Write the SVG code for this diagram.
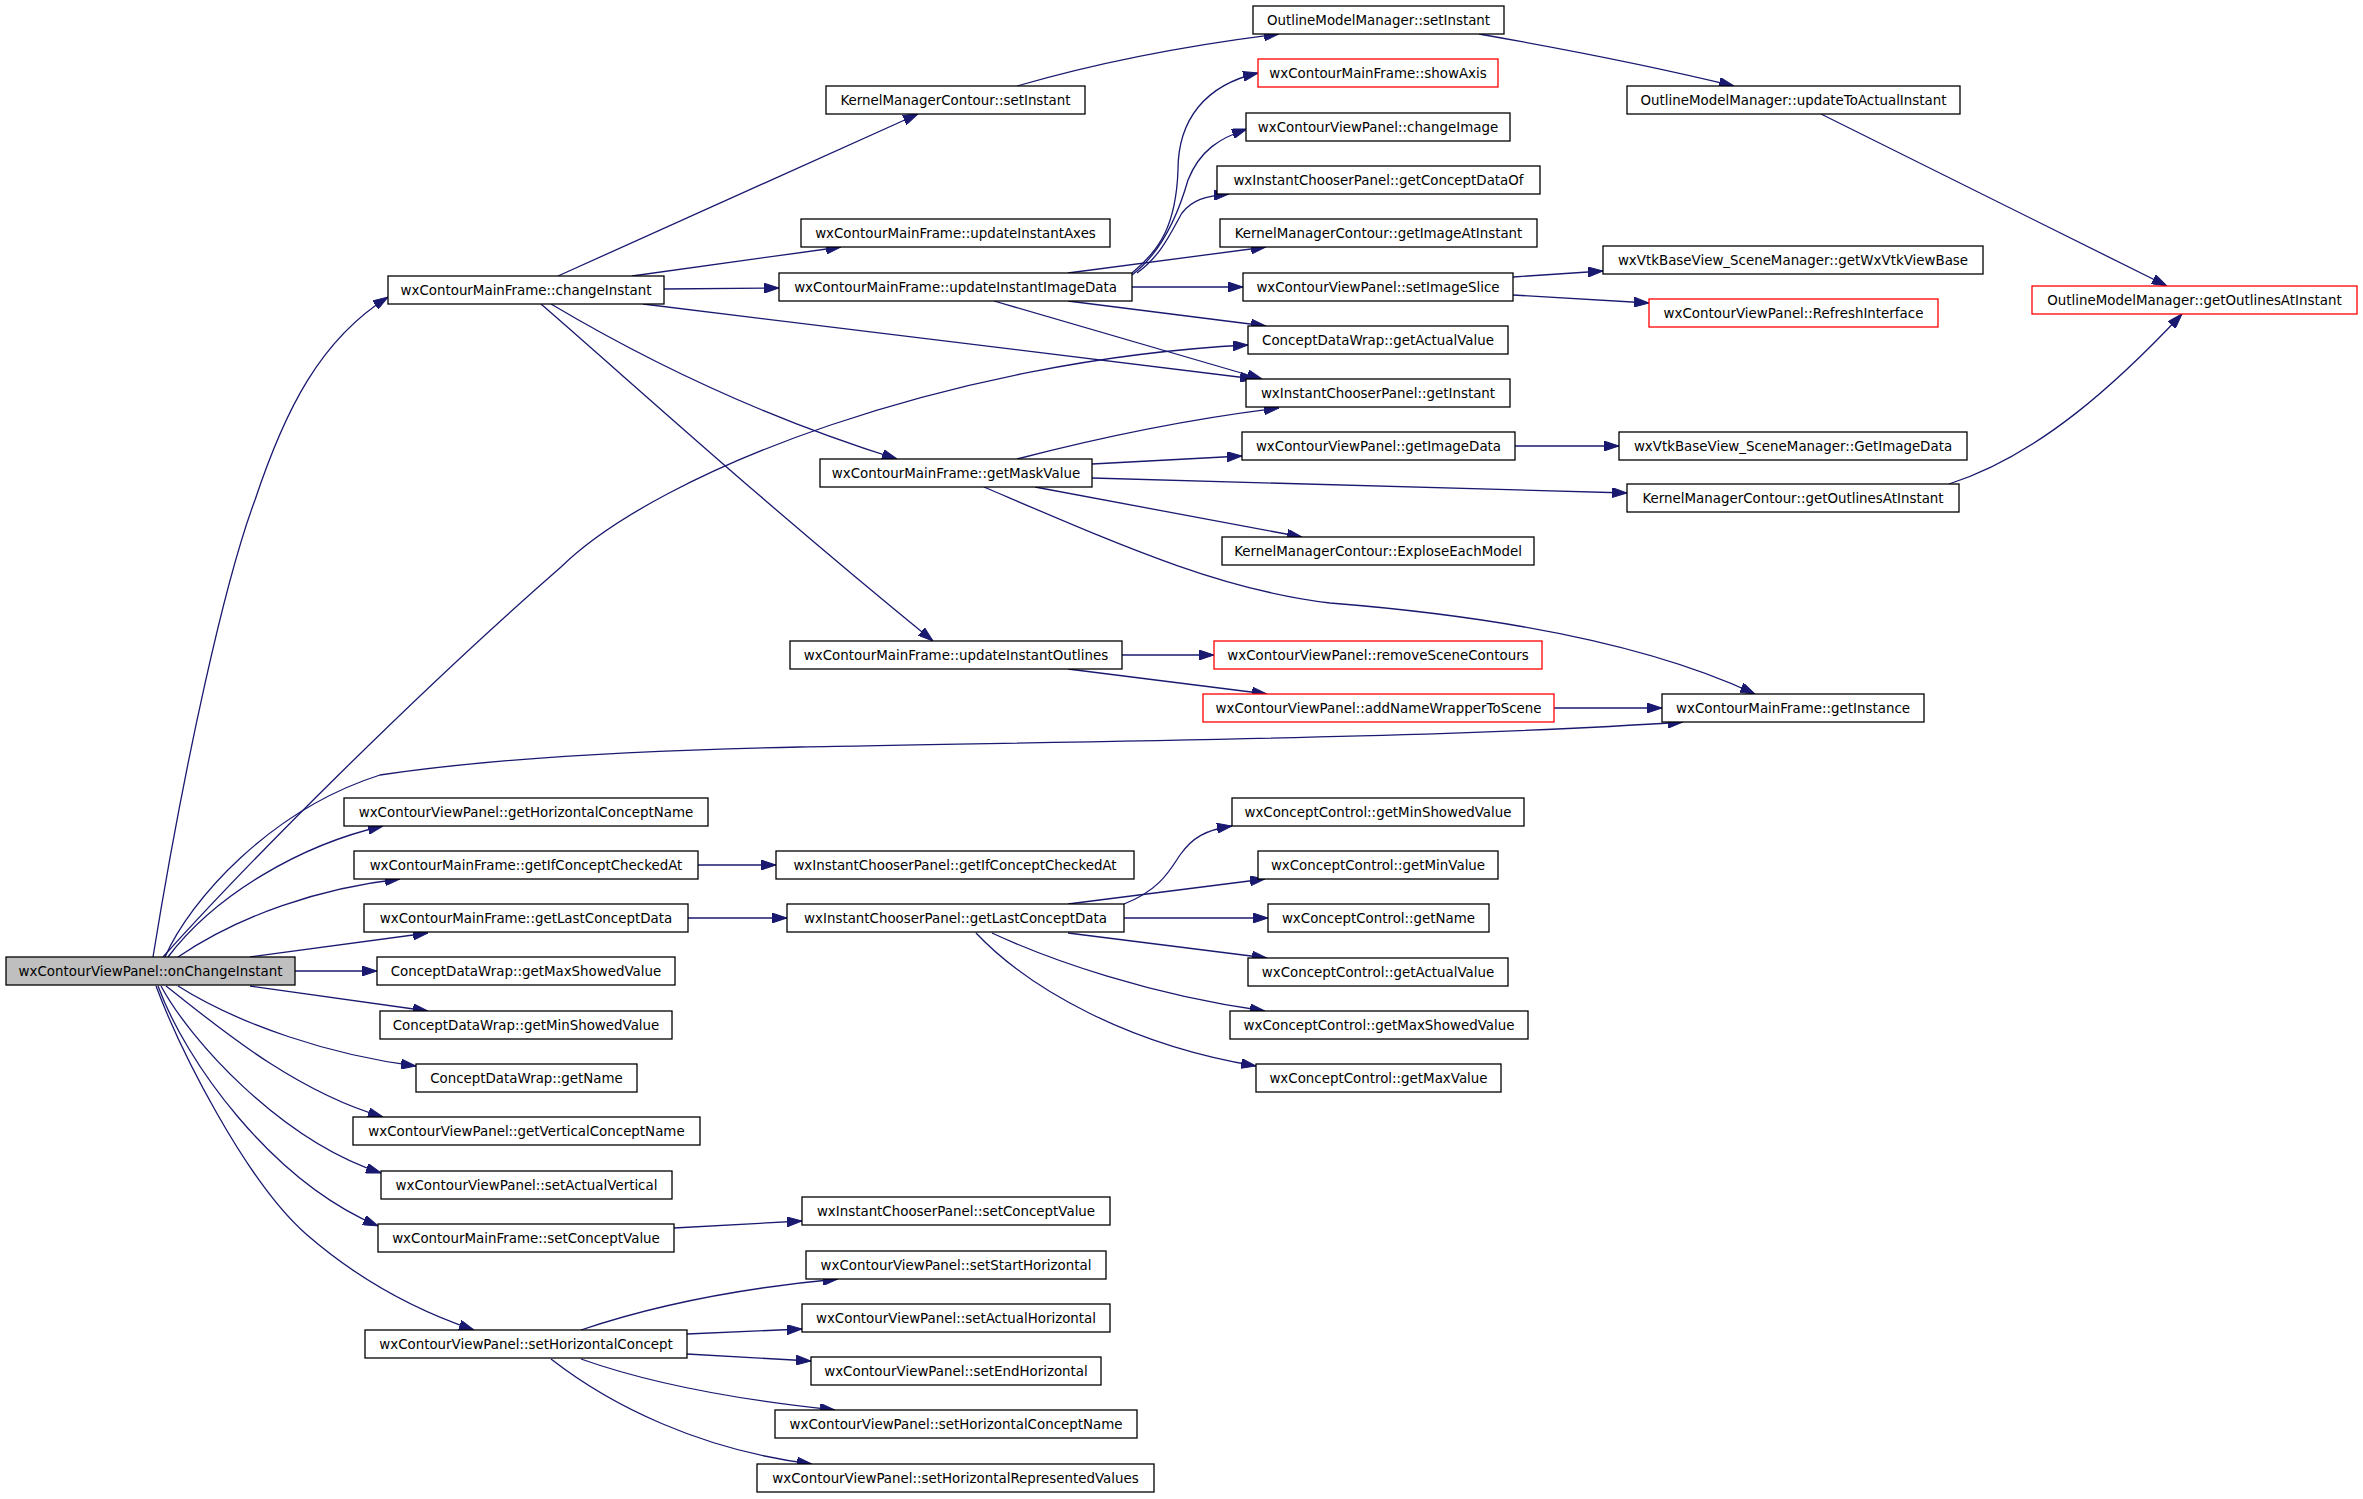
<svg xmlns="http://www.w3.org/2000/svg" width="2363" height="1499" viewBox="0 0 2363 1499">
<style>
.n rect{fill:#fff;stroke:#000;stroke-width:1.3}
.n.r rect{stroke:#ff0000}
.n.g rect{fill:#bfbfbf}
.n text{font-family:"DejaVu Sans",sans-serif;font-size:13.4px;fill:#000;text-anchor:middle}
#edges path{fill:none;stroke:#191970;stroke-width:1.3;marker-end:url(#ah)}
</style>
<defs>
<marker id="ah" viewBox="0 0 15 10" refX="15" refY="5" markerWidth="15" markerHeight="10" markerUnits="userSpaceOnUse" orient="auto">
<path d="M0,0 L15,5 L0,10 z" fill="#191970" stroke="#191970" stroke-width="1"/>
</marker>
</defs>
<rect width="2363" height="1499" fill="#fff"/>
<g id="edges">
<path d="M153,957 C185,760 225,580 255,500 C285,410 320,340 388,297"/>
<path d="M163,957 C250,860 420,690 561,567 C660,470 950,360 1248,345"/>
<path d="M165,957 C190,900 270,810 380,775 C500,757 650,750 800,747 C1100,741 1450,738 1683,722"/>
<path d="M168,957 C215,895 300,845 383,826"/>
<path d="M178,957 C240,915 320,888 400,879"/>
<path d="M250,957 L428,933"/>
<path d="M295,971 L377,971"/>
<path d="M250,986 L428,1011"/>
<path d="M178,986 C240,1025 330,1055 416,1066"/>
<path d="M166,986 C210,1020 290,1090 383,1117"/>
<path d="M161,986 C190,1040 280,1140 381,1173"/>
<path d="M158,986 C185,1060 270,1180 378,1226"/>
<path d="M156,986 C180,1050 245,1180 306,1234 C345,1268 400,1305 474,1330"/>
<path d="M558,276 L918,114"/>
<path d="M632,276 L841,247"/>
<path d="M664,289 L779,288"/>
<path d="M643,304 L1255,379"/>
<path d="M551,304 C620,345 740,410 897,459"/>
<path d="M541,304 C640,390 760,500 933,641"/>
<path d="M1132,273 C1160,250 1176,225 1178,170 C1178,120 1205,85 1258,73"/>
<path d="M1132,275 C1162,252 1178,215 1188,180 C1200,150 1220,138 1247,129"/>
<path d="M1137,273 C1162,255 1172,230 1182,213 C1192,200 1205,196 1229,194"/>
<path d="M1068,273 L1266,247"/>
<path d="M1132,287 L1243,287"/>
<path d="M1068,301 L1266,326"/>
<path d="M994,301 L1262,379"/>
<path d="M1513,277 L1603,271"/>
<path d="M1513,295 L1649,303"/>
<path d="M1017,86 C1100,62 1190,45 1279,34"/>
<path d="M1479,34 C1570,50 1660,68 1734,86"/>
<path d="M1821,114 L2167,286"/>
<path d="M1949,484 C2040,455 2120,380 2182,314"/>
<path d="M1017,459 C1090,440 1180,420 1279,408"/>
<path d="M1092,464 L1242,456"/>
<path d="M1092,478 L1627,493"/>
<path d="M1035,487 L1302,537"/>
<path d="M984,487 C1120,545 1220,590 1330,603 C1480,615 1640,640 1755,694"/>
<path d="M1122,655 L1214,655"/>
<path d="M1068,669 L1267,694"/>
<path d="M1554,708 L1662,708"/>
<path d="M698,865 L776,865"/>
<path d="M688,918 L787,918"/>
<path d="M1124,904 C1160,890 1170,870 1180,855 C1192,838 1205,830 1232,826"/>
<path d="M1068,904 L1265,879"/>
<path d="M1124,918 L1268,918"/>
<path d="M1068,933 L1267,958"/>
<path d="M992,933 C1050,960 1150,995 1265,1011"/>
<path d="M976,933 C1030,990 1130,1045 1256,1066"/>
<path d="M674,1228 L802,1221"/>
<path d="M581,1330 C640,1310 720,1290 838,1279"/>
<path d="M687,1334 L802,1329"/>
<path d="M687,1354 L811,1361"/>
<path d="M581,1359 C640,1380 720,1398 835,1410"/>
<path d="M551,1359 C610,1405 700,1450 812,1464"/>
<path d="M1515,446 L1619,446"/>
</g>
<g id="n0" class="n g"><rect x="6" y="957" width="289" height="28"/><text x="150.5" y="976">wxContourViewPanel::onChangeInstant</text></g>
<g id="n1" class="n"><rect x="388" y="276" width="276" height="28"/><text x="526" y="295">wxContourMainFrame::changeInstant</text></g>
<g id="n2" class="n"><rect x="826" y="86" width="259" height="28"/><text x="955.5" y="105">KernelManagerContour::setInstant</text></g>
<g id="n3" class="n"><rect x="1253" y="6" width="251" height="28"/><text x="1378.5" y="25">OutlineModelManager::setInstant</text></g>
<g id="n4" class="n"><rect x="1627" y="86" width="333" height="28"/><text x="1793.5" y="105">OutlineModelManager::updateToActualInstant</text></g>
<g id="n5" class="n r"><rect x="2032" y="286" width="325" height="28"/><text x="2194.5" y="305">OutlineModelManager::getOutlinesAtInstant</text></g>
<g id="n6" class="n r"><rect x="1258" y="59" width="240" height="28"/><text x="1378" y="78">wxContourMainFrame::showAxis</text></g>
<g id="n7" class="n"><rect x="1246" y="113" width="264" height="28"/><text x="1378" y="132">wxContourViewPanel::changeImage</text></g>
<g id="n8" class="n"><rect x="1217" y="166" width="323" height="28"/><text x="1378.5" y="185">wxInstantChooserPanel::getConceptDataOf</text></g>
<g id="n9" class="n"><rect x="801" y="219" width="309" height="28"/><text x="955.5" y="238">wxContourMainFrame::updateInstantAxes</text></g>
<g id="n10" class="n"><rect x="1220" y="219" width="317" height="28"/><text x="1378.5" y="238">KernelManagerContour::getImageAtInstant</text></g>
<g id="n11" class="n"><rect x="779" y="273" width="353" height="28"/><text x="955.5" y="292">wxContourMainFrame::updateInstantImageData</text></g>
<g id="n12" class="n"><rect x="1243" y="273" width="270" height="28"/><text x="1378" y="292">wxContourViewPanel::setImageSlice</text></g>
<g id="n13" class="n"><rect x="1603" y="246" width="380" height="28"/><text x="1793" y="265">wxVtkBaseView_SceneManager::getWxVtkViewBase</text></g>
<g id="n14" class="n r"><rect x="1649" y="299" width="289" height="28"/><text x="1793.5" y="318">wxContourViewPanel::RefreshInterface</text></g>
<g id="n15" class="n"><rect x="1248" y="326" width="260" height="28"/><text x="1378" y="345">ConceptDataWrap::getActualValue</text></g>
<g id="n16" class="n"><rect x="1246" y="379" width="264" height="28"/><text x="1378" y="398">wxInstantChooserPanel::getInstant</text></g>
<g id="n17" class="n"><rect x="1242" y="432" width="273" height="28"/><text x="1378.5" y="451">wxContourViewPanel::getImageData</text></g>
<g id="n18" class="n"><rect x="1619" y="432" width="348" height="28"/><text x="1793" y="451">wxVtkBaseView_SceneManager::GetImageData</text></g>
<g id="n19" class="n"><rect x="820" y="459" width="272" height="28"/><text x="956" y="478">wxContourMainFrame::getMaskValue</text></g>
<g id="n20" class="n"><rect x="1627" y="484" width="332" height="28"/><text x="1793" y="503">KernelManagerContour::getOutlinesAtInstant</text></g>
<g id="n21" class="n"><rect x="1222" y="537" width="312" height="28"/><text x="1378" y="556">KernelManagerContour::ExploseEachModel</text></g>
<g id="n22" class="n"><rect x="790" y="641" width="332" height="28"/><text x="956" y="660">wxContourMainFrame::updateInstantOutlines</text></g>
<g id="n23" class="n r"><rect x="1214" y="641" width="328" height="28"/><text x="1378" y="660">wxContourViewPanel::removeSceneContours</text></g>
<g id="n24" class="n r"><rect x="1203" y="694" width="351" height="28"/><text x="1378.5" y="713">wxContourViewPanel::addNameWrapperToScene</text></g>
<g id="n25" class="n"><rect x="1662" y="694" width="262" height="28"/><text x="1793" y="713">wxContourMainFrame::getInstance</text></g>
<g id="n26" class="n"><rect x="344" y="798" width="364" height="28"/><text x="526" y="817">wxContourViewPanel::getHorizontalConceptName</text></g>
<g id="n27" class="n"><rect x="1232" y="798" width="292" height="28"/><text x="1378" y="817">wxConceptControl::getMinShowedValue</text></g>
<g id="n28" class="n"><rect x="354" y="851" width="344" height="28"/><text x="526" y="870">wxContourMainFrame::getIfConceptCheckedAt</text></g>
<g id="n29" class="n"><rect x="776" y="851" width="358" height="28"/><text x="955" y="870">wxInstantChooserPanel::getIfConceptCheckedAt</text></g>
<g id="n30" class="n"><rect x="1258" y="851" width="240" height="28"/><text x="1378" y="870">wxConceptControl::getMinValue</text></g>
<g id="n31" class="n"><rect x="364" y="904" width="324" height="28"/><text x="526" y="923">wxContourMainFrame::getLastConceptData</text></g>
<g id="n32" class="n"><rect x="787" y="904" width="337" height="28"/><text x="955.5" y="923">wxInstantChooserPanel::getLastConceptData</text></g>
<g id="n33" class="n"><rect x="1268" y="904" width="221" height="28"/><text x="1378.5" y="923">wxConceptControl::getName</text></g>
<g id="n34" class="n"><rect x="377" y="957" width="298" height="28"/><text x="526" y="976">ConceptDataWrap::getMaxShowedValue</text></g>
<g id="n35" class="n"><rect x="1248" y="958" width="260" height="28"/><text x="1378" y="977">wxConceptControl::getActualValue</text></g>
<g id="n36" class="n"><rect x="380" y="1011" width="292" height="28"/><text x="526" y="1030">ConceptDataWrap::getMinShowedValue</text></g>
<g id="n37" class="n"><rect x="1230" y="1011" width="298" height="28"/><text x="1379" y="1030">wxConceptControl::getMaxShowedValue</text></g>
<g id="n38" class="n"><rect x="416" y="1064" width="221" height="28"/><text x="526.5" y="1083">ConceptDataWrap::getName</text></g>
<g id="n39" class="n"><rect x="1256" y="1064" width="245" height="28"/><text x="1378.5" y="1083">wxConceptControl::getMaxValue</text></g>
<g id="n40" class="n"><rect x="353" y="1117" width="347" height="28"/><text x="526.5" y="1136">wxContourViewPanel::getVerticalConceptName</text></g>
<g id="n41" class="n"><rect x="381" y="1171" width="291" height="28"/><text x="526.5" y="1190">wxContourViewPanel::setActualVertical</text></g>
<g id="n42" class="n"><rect x="378" y="1224" width="296" height="28"/><text x="526" y="1243">wxContourMainFrame::setConceptValue</text></g>
<g id="n43" class="n"><rect x="802" y="1197" width="308" height="28"/><text x="956" y="1216">wxInstantChooserPanel::setConceptValue</text></g>
<g id="n44" class="n"><rect x="806" y="1251" width="300" height="28"/><text x="956" y="1270">wxContourViewPanel::setStartHorizontal</text></g>
<g id="n45" class="n"><rect x="365" y="1330" width="322" height="28"/><text x="526" y="1349">wxContourViewPanel::setHorizontalConcept</text></g>
<g id="n46" class="n"><rect x="802" y="1304" width="308" height="28"/><text x="956" y="1323">wxContourViewPanel::setActualHorizontal</text></g>
<g id="n47" class="n"><rect x="811" y="1357" width="290" height="28"/><text x="956" y="1376">wxContourViewPanel::setEndHorizontal</text></g>
<g id="n48" class="n"><rect x="775" y="1410" width="362" height="28"/><text x="956" y="1429">wxContourViewPanel::setHorizontalConceptName</text></g>
<g id="n49" class="n"><rect x="757" y="1464" width="397" height="28"/><text x="955.5" y="1483">wxContourViewPanel::setHorizontalRepresentedValues</text></g>
</svg>
